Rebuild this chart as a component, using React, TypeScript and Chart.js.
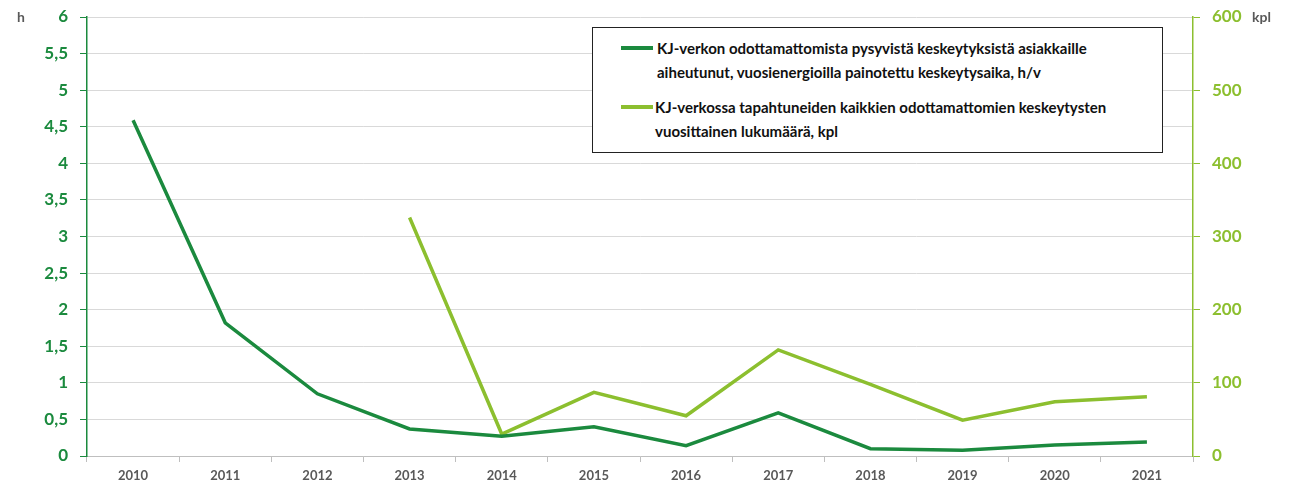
import React, { useEffect, useRef } from "react";
import { Chart, registerables } from "chart.js";

Chart.register(...registerables);

const years = ["2010", "2011", "2012", "2013", "2014", "2015", "2016", "2017", "2018", "2019", "2020", "2021"];
const hoursValues: (number | null)[] = [4.59, 1.82, 0.85, 0.37, 0.27, 0.4, 0.14, 0.59, 0.1, 0.08, 0.15, 0.19];
const countValues: (number | null)[] = [null, null, null, 326, 30, 87, 55, 145, 98, 49, 74, 81];
const leftTicks = ["0", "0,5", "1", "1,5", "2", "2,5", "3", "3,5", "4", "4,5", "5", "5,5", "6"];
const rightTicks = ["0", "100", "200", "300", "400", "500", "600"];
const seriesLabels = [
  ["KJ-verkon odottamattomista pysyvistä keskeytyksistä asiakkaille", "aiheutunut, vuosienergioilla painotettu keskeytysaika, h/v"],
  ["KJ-verkossa tapahtuneiden kaikkien odottamattomien keskeytysten", "vuosittainen lukumäärä, kpl"],
];
const leftUnit = "h";
const rightUnit = "kpl";

const DARK = "#1b8a3e";
const LIGHT = "#8cbf2f";
const FONT = "Lato, 'Open Sans', sans-serif";

export default function App() {
  const ref = useRef<HTMLCanvasElement | null>(null);

  useEffect(() => {
    document.body.style.margin = "0";
    document.body.style.overflow = "hidden";
    const canvas = ref.current;
    if (!canvas) return;
    const chart = new Chart(canvas, {
      type: "line",
      data: {
        labels: years,
        datasets: [
          {
            label: seriesLabels[0].join(" "),
            data: hoursValues,
            borderColor: DARK,
            backgroundColor: DARK,
            borderWidth: 3.5,
            pointRadius: 0,
            tension: 0,
            yAxisID: "y",
          },
          {
            label: seriesLabels[1].join(" "),
            data: countValues,
            borderColor: LIGHT,
            backgroundColor: LIGHT,
            borderWidth: 3.5,
            pointRadius: 0,
            tension: 0,
            yAxisID: "y1",
          },
        ],
      },
      options: {
        animation: false,
        responsive: false,
        maintainAspectRatio: false,
        layout: { padding: { top: 17, left: 0, right: 0, bottom: 0 } },
        plugins: { legend: { display: false }, tooltip: { enabled: false } },
        scales: {
          x: {
            offset: true,
            grid: { offset: true, drawOnChartArea: false, color: "#bfbfbf", tickLength: 6 },
            border: { color: "#bfbfbf", width: 1 },
            ticks: { color: "#595959", font: { family: FONT, size: 13, weight: "bold" }, padding: 6, maxRotation: 0 },
            afterFit: (s: any) => { s.height = 33; s.paddingLeft = 0; s.paddingRight = 0; },
          },
          y: {
            position: "left",
            min: 0,
            max: 6,
            ticks: {
              stepSize: 0.5,
              color: DARK,
              font: { family: FONT, size: 17, weight: "bold" },
              padding: 12,
              callback: (_v: any, i: number) => leftTicks[i],
            },
            grid: { color: "#d9d9d9", tickColor: DARK, tickLength: 7, lineWidth: 1 },
            border: { color: DARK, width: 1.5 },
            afterFit: (s: any) => { s.width = 87; s.paddingTop = 0; s.paddingBottom = 0; },
          },
          y1: {
            position: "right",
            min: 0,
            max: 600,
            ticks: {
              stepSize: 100,
              color: LIGHT,
              font: { family: FONT, size: 17, weight: "bold" },
              padding: 12,
              callback: (_v: any, i: number) => rightTicks[i],
            },
            grid: { drawOnChartArea: false, tickColor: LIGHT, tickLength: 7 },
            border: { color: LIGHT, width: 1.5 },
            afterFit: (s: any) => { s.width = 99; s.paddingTop = 0; s.paddingBottom = 0; },
          },
        },
      },
    });
    return () => chart.destroy();
  }, []);

  const textStyle: React.CSSProperties = {
    fontFamily: FONT,
    fontWeight: 700,
    fontSize: 15,
    color: "#111",
    whiteSpace: "nowrap",
    position: "absolute",
    lineHeight: "24px",
  };

  return (
    <div style={{ position: "relative", width: 1292, height: 489, overflow: "hidden", background: "#fff" }}>
      <canvas ref={ref} width={1292} height={489} style={{ display: "block" }} />
      <div style={{ position: "absolute", left: 17, top: 8, fontFamily: FONT, fontWeight: 700, fontSize: 14, color: "#595959" }}>{leftUnit}</div>
      <div style={{ position: "absolute", left: 1252, top: 8, fontFamily: FONT, fontWeight: 700, fontSize: 14, color: "#595959" }}>{rightUnit}</div>
      <div style={{ position: "absolute", left: 592, top: 27, width: 569, height: 124, border: "1px solid #222", background: "#fff" }}>
        <div style={{ position: "absolute", left: 28, top: 18, width: 32, height: 4, background: DARK }} />
        <div style={{ ...textStyle, left: 64, top: 8 }}>
          {seriesLabels[0][0]}
          <br />
          {seriesLabels[0][1]}
        </div>
        <div style={{ position: "absolute", left: 28, top: 77, width: 32, height: 4, background: LIGHT }} />
        <div style={{ ...textStyle, left: 62, top: 67 }}>
          {seriesLabels[1][0]}
          <br />
          {seriesLabels[1][1]}
        </div>
      </div>
    </div>
  );
}
